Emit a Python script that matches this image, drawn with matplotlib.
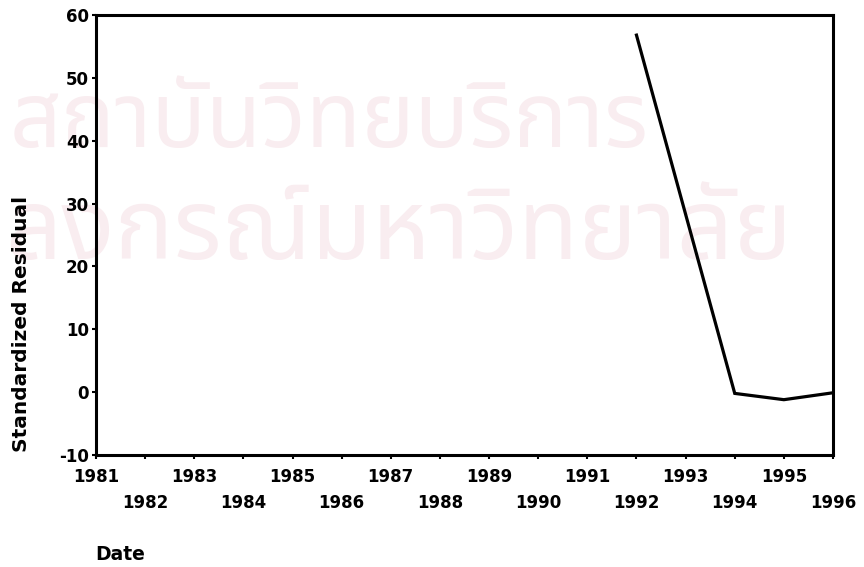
import matplotlib
matplotlib.use("Agg")
import matplotlib.pyplot as plt
from matplotlib.ticker import FixedLocator

# Standardized residuals by year
years = [1992, 1994, 1995, 1996]
residuals = [56.8, -0.2, -1.2, -0.1]

odd_years = list(range(1981, 1997, 2))
even_years = list(range(1982, 1997, 2))
y_ticks = [-10, 0, 10, 20, 30, 40, 50, 60]

watermark_lines = ["สถาบันวิทยบริการ", "ลงกรณ์มหาวิทยาลัย"]

W, H = 864, 567
fig = plt.figure(figsize=(W / 100, H / 100), dpi=100)
fig.patch.set_facecolor("white")

# faint background watermark, kept underneath the axes
thai_family = ["Noto Sans Thai", "Loma", "Garuda", "Noto Sans", "DejaVu Sans"]
fig.text(10 / W, 1 - 147 / H, watermark_lines[0], fontsize=65, color="#f9edf0",
         family=thai_family, ha="left", va="baseline", zorder=-5)
fig.text(792 / W, 1 - 259 / H, watermark_lines[1], fontsize=71, color="#f9edf0",
         family=thai_family, ha="right", va="baseline", zorder=-5)

ax = fig.add_axes([96 / W, 1 - 455 / H, (833 - 96) / W, (455 - 15) / H])
ax.patch.set_alpha(0)

ax.plot(years, residuals, color="black", lw=2.3, solid_joinstyle="miter")

ax.set_xlim(1981, 1996)
ax.set_ylim(-10, 60)

for s in ax.spines.values():
    s.set_linewidth(2.2)

label_font = dict(family="DejaVu Sans", weight="bold", size=12)

ax.xaxis.set_major_locator(FixedLocator(odd_years))
ax.xaxis.set_minor_locator(FixedLocator(even_years))
ax.set_xticklabels([str(y) for y in odd_years], **label_font)
ax.set_xticklabels([str(y) for y in even_years], minor=True, **label_font)
ax.tick_params(axis="x", which="major", direction="out", length=3, width=1.5, pad=6)
ax.tick_params(axis="x", which="minor", direction="out", length=3, width=1.5, pad=25)

ax.set_yticks(y_ticks)
ax.set_yticklabels([str(v) for v in y_ticks], **label_font)
ax.tick_params(axis="y", direction="out", length=3, width=1.5, pad=2)

fig.text(22 / W, 1 - 324 / H, "Standardized Residual", rotation=90,
         ha="center", va="center", family="DejaVu Sans", weight="bold", size=14.5)
fig.text(95 / W, 1 - 555 / H, "Date", ha="left", va="center",
         family="DejaVu Sans", weight="bold", size=13.5)

fig.savefig("out.png", dpi=100, facecolor="white")
